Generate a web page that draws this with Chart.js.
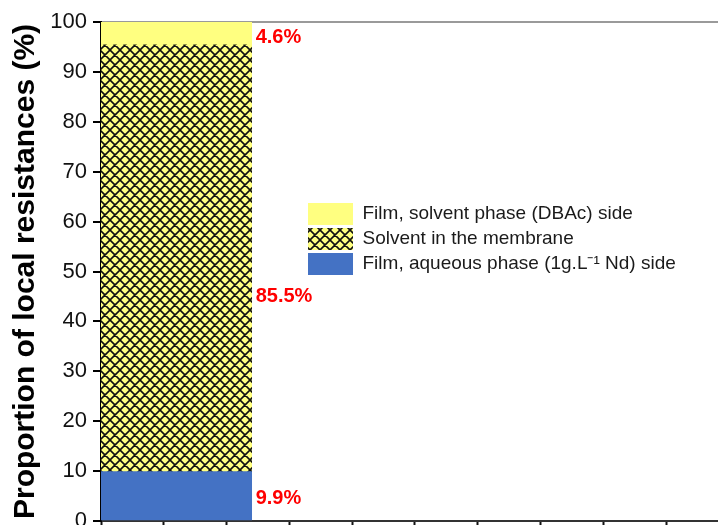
<!DOCTYPE html>
<html>
<head>
<meta charset="utf-8">
<script src="https://cdn.jsdelivr.net/npm/chart.js"></script>
<style>
  html, body { margin: 0; padding: 0; background: #fff; overflow: hidden; }
  #wrap { width: 860px; height: 560px; }
</style>
</head>
<body>
<div id="wrap"><canvas id="c" width="860" height="560"></canvas></div>
<script>
// ---- data ----
const categories = ['Membrane'];
const seriesNames = [
  'Film, aqueous phase (1g.L\u207B\u00B9 Nd) side',
  'Solvent in the membrane',
  'Film, solvent phase (DBAc) side'
];
const aqueousFilm = [9.9];
const solventInMembrane = [85.5];
const solventFilm = [4.6];
const yTickLabels = [0, 10, 20, 30, 40, 50, 60, 70, 80, 90, 100];

// ---- styles ----
const FONT = '"Liberation Sans", Arial, sans-serif';
const YELLOW = '#FFFF80';
const BLUE = '#4472C4';

function makeHatch() {
  const s = 10;
  const c = document.createElement('canvas');
  c.width = s; c.height = s;
  const g = c.getContext('2d');
  g.fillStyle = YELLOW;
  g.fillRect(0, 0, s, s);
  g.strokeStyle = '#111';
  g.lineWidth = 1.6;
  g.beginPath();
  for (let k = -1; k <= 1; k++) {
    g.moveTo(-2, -2 + k * s); g.lineTo(s + 2, s + 2 + k * s);
    g.moveTo(-2, s + 2 + k * s); g.lineTo(s + 2, -2 + k * s);
  }
  g.stroke();
  return g.createPattern(c, 'repeat');
}

const segLabels = {
  id: 'segLabels',
  afterDatasetsDraw(chart, args, opts) {
    const ctx = chart.ctx;
    const y = chart.scales.y;
    ctx.save();
    ctx.font = 'bold 20px ' + FONT;
    ctx.fillStyle = '#FF0000';
    ctx.textAlign = 'left';
    ctx.textBaseline = 'middle';
    chart.data.datasets.forEach((ds, i) => {
      const bar = chart.getDatasetMeta(i).data[0];
      if (!bar) return;
      const p = bar.getProps(['x', 'width'], true);
      const xr = p.x + p.width / 2 + opts.gap;
      ctx.fillText(ds.data[0].toFixed(1) + '%', xr, y.getPixelForValue(opts.anchors[i]));
    });
    ctx.restore();
  }
};

const placeLegend = {
  id: 'placeLegend',
  afterLayout(chart, args, opts) {
    const lg = chart.legend;
    if (!lg) return;
    lg.left = opts.left; lg.top = opts.top;
    lg.right = opts.left + 400; lg.bottom = opts.top + 100;
  }
};

const hatch = makeHatch();

new Chart(document.getElementById('c'), {
  type: 'bar',
  data: {
    labels: categories.concat(['', '', '', '']),
    datasets: [
      { label: seriesNames[0], data: aqueousFilm, backgroundColor: BLUE, borderWidth: 0, xAxisID: 'xc', yAxisID: 'y' },
      { label: seriesNames[1], data: solventInMembrane, backgroundColor: hatch, borderWidth: 0, xAxisID: 'xc', yAxisID: 'y' },
      { label: seriesNames[2], data: solventFilm, backgroundColor: YELLOW, borderWidth: 0, xAxisID: 'xc', yAxisID: 'y' }
    ]
  },
  options: {
    responsive: false,
    animation: false,
    devicePixelRatio: 1,
    layout: { padding: { left: 0, top: 22, right: 5.6, bottom: 31 } },
    datasets: { bar: { barPercentage: 1, categoryPercentage: 1 } },
    scales: {
      xc: {
        type: 'category', axis: 'x', position: 'bottom', display: false,
        stacked: true, offset: true
      },
      x: {
        type: 'linear', axis: 'x', position: 'bottom', min: 0, max: 12,
        offset: false,
        ticks: { display: false, stepSize: 1 },
        grid: { offset: false, drawOnChartArea: false, drawTicks: true, tickLength: 8, tickWidth: 2, tickColor: '#111' },
        border: { display: true, color: '#333', width: 2 }
      },
      y: {
        type: 'linear', position: 'left', min: 0, max: 100, stacked: true,
        afterFit: (s) => { s.width = 101; },
        ticks: {
          stepSize: 5, padding: 6, color: '#111',
          font: { family: FONT, size: 22 },
          callback: (v) => yTickLabels.includes(v) ? String(v) : ''
        },
        grid: {
          drawOnChartArea: true, drawTicks: true, tickLength: 8, tickWidth: 2, tickColor: '#000',
          lineWidth: 2,
          color: (c) => (c.tick && c.tick.value === 100) ? '#9a9a9a' : 'rgba(0,0,0,0)',
          tickBorderDash: (c) => (c.tick && c.tick.value % 10 === 0) ? [] : [0, 4, 4, 100]
        },
        border: { display: true, color: '#000', width: 2 },
        title: {
          display: true, text: 'Proportion of local resistances (%)', color: '#000',
          font: { family: FONT, size: 30, weight: 'bold' },
          padding: { top: 8, bottom: 0 }
        }
      }
    },
    plugins: {
      legend: {
        position: 'chartArea', align: 'start', reverse: true,
        labels: {
          boxWidth: 45, boxHeight: 22, padding: 3, color: '#1a1a1a',
          font: { family: FONT, size: 19 }
        }
      },
      tooltip: { enabled: false },
      segLabels: { gap: 4, anchors: [4.6, 44.9, 96.9] },
      placeLegend: { left: 305, top: 200 }
    }
  },
  plugins: [segLabels, placeLegend]
});
</script>
</body>
</html>
